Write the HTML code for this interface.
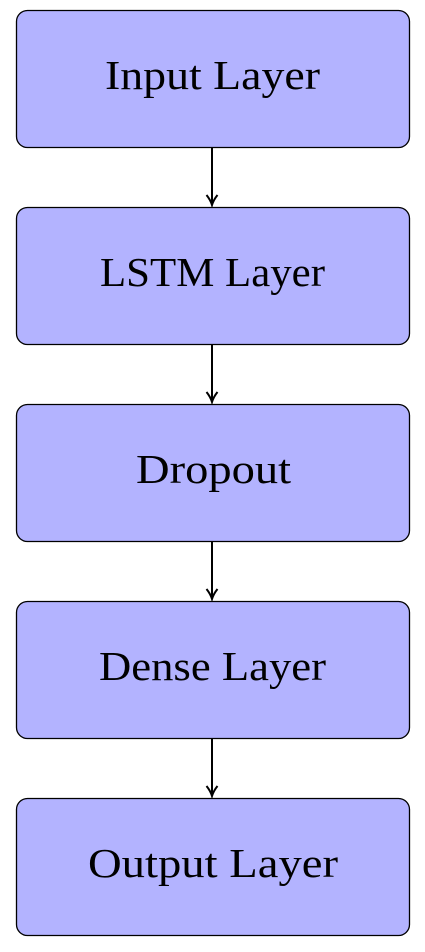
<!DOCTYPE html>
<html><head><style>
html,body{margin:0;padding:0;background:#fff;}
</style></head><body>
<svg width="425" height="947" xmlns="http://www.w3.org/2000/svg" font-family="Liberation Serif, serif">
<defs><marker id="a" markerWidth="14" markerHeight="14" refX="11" refY="7" orient="auto" markerUnits="userSpaceOnUse"><path d="M1,1.5 Q6,5.5 11,7 Q6,8.5 1,12.5" fill="none" stroke="#000" stroke-width="2"/></marker></defs>
<g stroke="#000" stroke-width="1.3" fill="#b3b3ff">
<rect x="16.5" y="10.5" width="393" height="137" rx="11"/>
<rect x="16.5" y="207.5" width="393" height="137" rx="11"/>
<rect x="16.5" y="404.5" width="393" height="137" rx="11"/>
<rect x="16.5" y="601.5" width="393" height="137" rx="11"/>
<rect x="16.5" y="798.5" width="393" height="137" rx="11"/>
</g>
<g stroke="#000" stroke-width="2" marker-end="url(#a)">
<line x1="212" y1="148" x2="212" y2="205"/>
<line x1="212" y1="345" x2="212" y2="402"/>
<line x1="212" y1="542" x2="212" y2="599"/>
<line x1="212" y1="739" x2="212" y2="796"/>
</g>
<g font-size="41" fill="#000" lengthAdjust="spacingAndGlyphs">
<text x="105" y="89" textLength="215" lengthAdjust="spacingAndGlyphs">Input Layer</text>
<text x="100" y="286" textLength="225" lengthAdjust="spacingAndGlyphs">LSTM Layer</text>
<text x="136" y="483" textLength="155" lengthAdjust="spacingAndGlyphs">Dropout</text>
<text x="99" y="680" textLength="227" lengthAdjust="spacingAndGlyphs">Dense Layer</text>
<text x="88" y="877" textLength="250" lengthAdjust="spacingAndGlyphs">Output Layer</text>
</g>
</svg>
</body></html>
